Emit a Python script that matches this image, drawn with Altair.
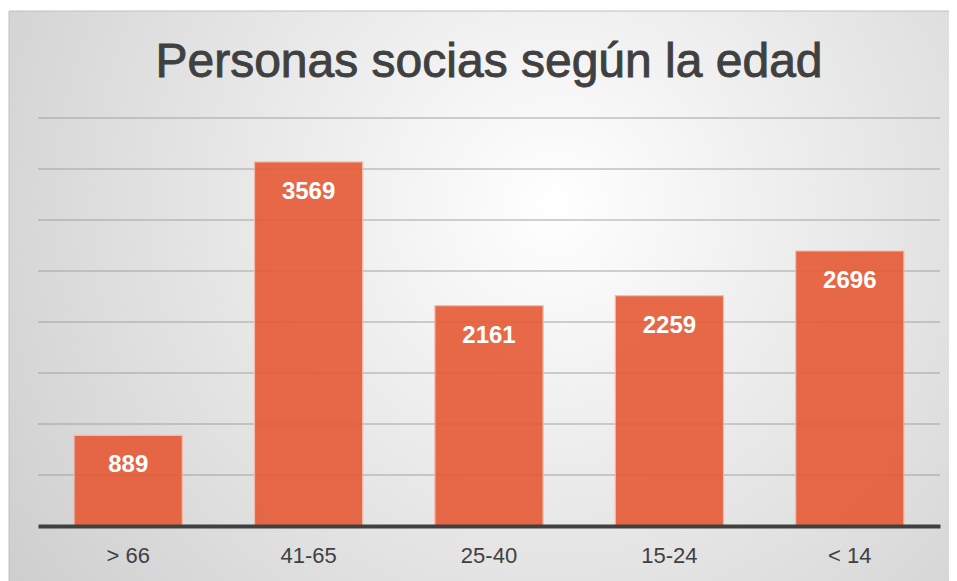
import altair as alt
import pandas as pd

title_text = "Personas socias según la edad"
categories = ["> 66", "41-65", "25-40", "15-24", "< 14"]
values = [889, 3569, 2161, 2259, 2696]
grid_values = [500, 1000, 1500, 2000, 2500, 3000, 3500, 4000]

df = pd.DataFrame({"edad": categories, "personas": values})
gdf = pd.DataFrame({"g": grid_values})

W, H = 902, 408
FONT = "Liberation Sans"

yscale = alt.Scale(domain=[0, 4000], nice=False)

bg = alt.Chart(pd.DataFrame({"a": [0]})).mark_rect(
    fill=alt.RadialGradient(
        gradient="radial",
        stops=[alt.GradientStop(offset=0, color="#ffffff"),
               alt.GradientStop(offset=1, color="#c4c4c4")],
        x1=0.58, y1=0.4, x2=0.58, y2=0.4, r1=0, r2=0.85,
    ),
    stroke="#c0c0c0", strokeWidth=1,
).encode(
    x=alt.value(-29), x2=alt.value(913),
    y=alt.value(-107), y2=alt.value(470),
)

title = alt.Chart(pd.DataFrame({"t": [title_text]})).mark_text(
    fontSize=48, font=FONT, color="#404040", baseline="alphabetic",
    align="center", stroke="#404040", strokeWidth=0.9,
).encode(x=alt.value(W / 2), y=alt.value(-41), text="t:N")

grid = alt.Chart(gdf).mark_rule(color="#9a9a9a", opacity=0.6, strokeWidth=1.5).encode(
    y=alt.Y("g:Q", scale=yscale, axis=None),
    x=alt.value(0), x2=alt.value(W),
)

x_enc = alt.X("edad:N", sort=categories,
              scale=alt.Scale(paddingInner=0.4, paddingOuter=0.2),
              axis=alt.Axis(title=None, labelAngle=0, labelFontSize=22,
                            labelColor="#404040", labelFont=FONT,
                            labelPadding=19, ticks=False,
                            domainColor="#404040", domainWidth=4,
                            grid=False, zindex=2))
y_enc = alt.Y("personas:Q", scale=yscale, axis=None)

bars = alt.Chart(df).mark_bar(
    color="#e65a35", opacity=0.9, stroke="#f5b8a5", strokeWidth=1.2,
).encode(x=x_enc, y=y_enc)

labels = alt.Chart(df).mark_text(
    baseline="top", dy=18, color="white", fontSize=24,
    fontWeight="bold", font=FONT,
).encode(x=alt.X("edad:N", sort=categories), y="personas:Q",
         text="personas:Q")

chart = alt.layer(bg, title, grid, bars, labels).properties(
    width=W, height=H,
    autosize=alt.AutoSizeParams(type="none"),
    padding={"left": 30, "top": 110, "right": 9, "bottom": 55},
).configure_view(stroke=None).configure(background="#ffffff")

chart.save("out.html", embed_options={"renderer": "svg", "actions": False})
